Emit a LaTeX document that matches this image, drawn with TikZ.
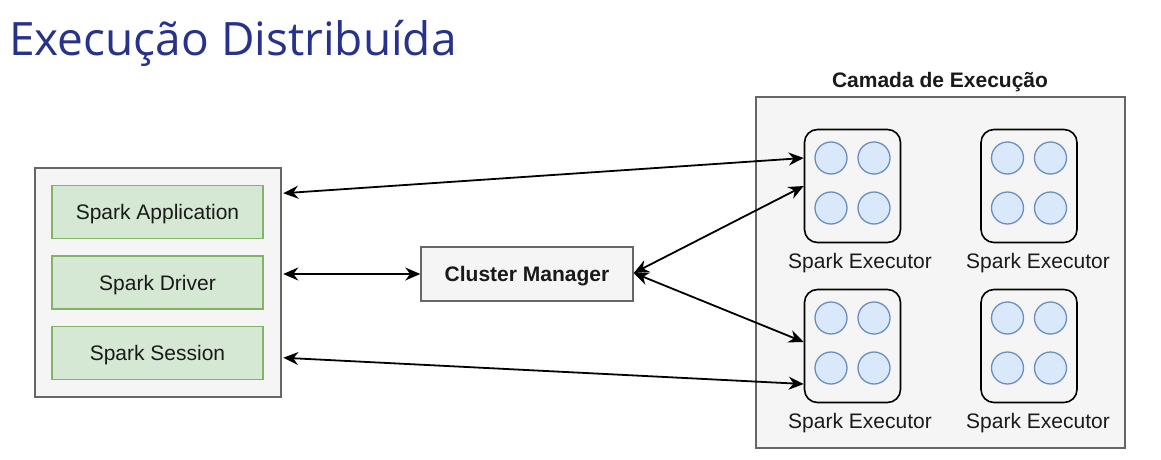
\documentclass[tikz,border=0pt]{standalone}
\usepackage{fontspec}
\setmainfont{Liberation Sans}
\newfontfamily\titlefont{Open Sans}
\usetikzlibrary{arrows.meta,calc}
\definecolor{titleblue}{RGB}{38,50,140}
\definecolor{boxgray}{HTML}{F5F5F5}
\definecolor{edgegray}{HTML}{666666}
\definecolor{greenfill}{HTML}{D5E8D4}
\definecolor{greenedge}{HTML}{82B366}
\definecolor{bluefill}{HTML}{DAE8FC}
\definecolor{blueedge}{HTML}{6C8EBF}
\definecolor{txt}{HTML}{1A1A1A}
\tikzset{
  lbl/.style={font=\fontsize{21}{25}\selectfont, text=txt, inner sep=0pt},
  graybox/.style={draw=edgegray, fill=boxgray, line width=1.5pt, inner sep=0pt},
  greenbox/.style={draw=greenedge, fill=greenfill, line width=1.5pt, minimum width=211pt, minimum height=53pt, inner sep=0pt, font=\fontsize{21}{25}\selectfont, text=txt, text height=15pt, text depth=0pt},
  execbox/.style={draw=black, fill=boxgray, line width=1.6pt, rounded corners=13pt, minimum width=96pt, minimum height=113pt, inner sep=0pt},
  core/.style={circle, draw=blueedge, fill=bluefill, line width=1.3pt, minimum size=32pt, inner sep=0pt},
  arr/.style={line width=1.8pt, draw=black, {Stealth[length=15pt,width=13pt]}-{Stealth[length=15pt,width=13pt]}}
}
\begin{document}
\begin{tikzpicture}[x=1pt,y=-1pt]
\useasboundingbox[fill=white] (0,0) rectangle (1161,460);
% title
\node[anchor=base west, inner sep=0pt, text=titleblue, font=\titlefont\fontsize{46}{55}\selectfont] (title) at (9,56) {Execução Distribuída};
% left box
\node[graybox, minimum width=246pt, minimum height=229pt] (lbox) at (158,282.5) {};
\node[greenbox] (app) at (157.5,212) {Spark Application};
\node[greenbox] (drv) at (157.5,282.5) {Spark Driver};
\node[greenbox] (ses) at (157.5,353) {Spark Session};
% cluster manager
\node[graybox, minimum width=212pt, minimum height=54pt, font=\bfseries\fontsize{21}{25}\selectfont, text=txt, text height=15pt, text depth=0pt] (cm) at (527,274) {Cluster Manager};
% execution layer
\node[graybox, minimum width=369pt, minimum height=351pt] (layer) at (940.5,272.5) {};
\node[lbl, font=\bfseries\fontsize{21}{25}\selectfont, anchor=base] (layerlbl) at (940,87) {Camada de Execução};
% executors
\foreach \n/\x/\y in {exTL/852.5/186, exTR/1029/186, exBL/852.5/346, exBR/1029/346}{
  \node[execbox] (\n) at (\x,\y) {};
  \node[core] (\n a) at ($(\n)+(-21.5,-28)$) {};
  \node[core] (\n b) at ($(\n)+(21.5,-28)$) {};
  \node[core] (\n c) at ($(\n)+(-21.5,22)$) {};
  \node[core] (\n d) at ($(\n)+(21.5,22)$) {};
}
\node[lbl, anchor=base] (lTL) at (860,268) {Spark Executor};
\node[lbl, anchor=base] (lTR) at (1038,268) {Spark Executor};
\node[lbl, anchor=base] (lBL) at (860,428) {Spark Executor};
\node[lbl, anchor=base] (lBR) at (1038,428) {Spark Executor};
% connector end points
\coordinate (pApp) at ($(lbox.north east)+(1.5,26)$);
\coordinate (pDrv) at (lbox.east |- cm.west);
\coordinate (pSes) at ($(lbox.south east)+(1.5,-40)$);
\coordinate (pTL1) at ($(exTL.west)+(0,-28)$);
\coordinate (pTL2) at ($(exTL.west)+(0,0)$);
\coordinate (pBL1) at ($(exBL.west)+(0,-4)$);
\coordinate (pBL2) at ($(exBL.west)+(0,38)$);
\coordinate (pCM) at ($(cm.east)+(0,-1)$);
% connectors
\draw[arr] (pApp) -- (pTL1);
\draw[arr] ($(pDrv)+(1.5,0)$) -- (cm.west);
\draw[arr] (pSes) -- (pBL2);
\draw[arr] (pCM) -- (pTL2);
\draw[arr] (pCM) -- (pBL1);
\end{tikzpicture}
\end{document}
